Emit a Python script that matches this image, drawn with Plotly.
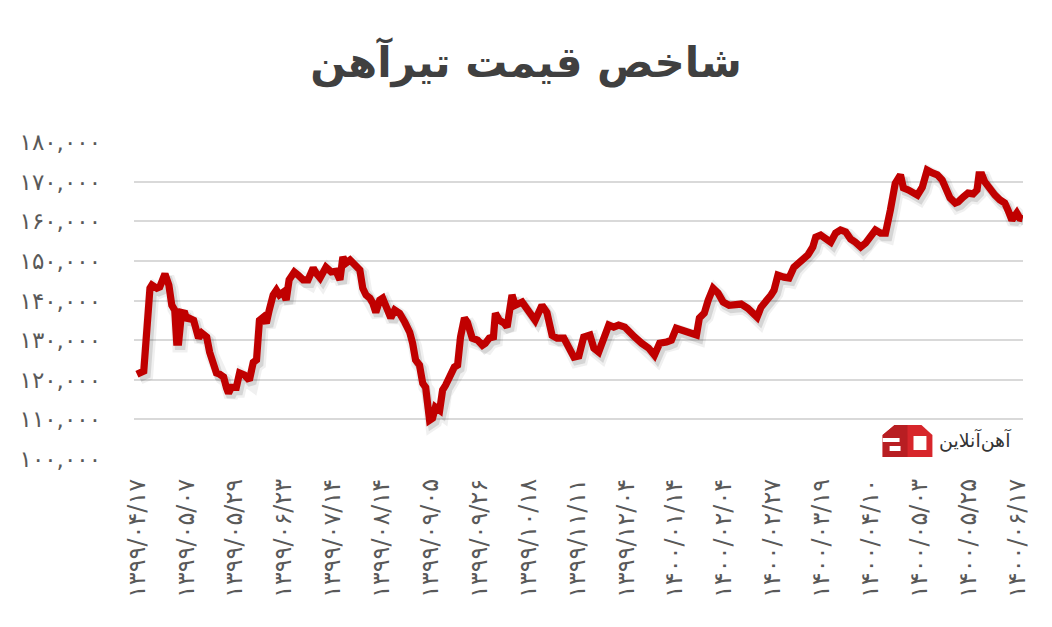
import plotly.graph_objects as go

# ---- data ----
day_index = [0.0, 2.1, 4.0, 4.6, 6.1, 7.0, 8.6, 9.8, 10.7, 11.6, 12.2, 12.8, 13.7, 14.7, 15.3, 15.9,
             17.4, 18.3, 18.9, 19.9, 21.4, 22.3, 23.5, 24.4, 25.4, 26.6, 27.5, 28.1, 29.0, 30.5, 31.5,
             33.0, 34.5, 35.7, 36.7, 37.6, 38.8, 39.7, 40.6, 41.8, 42.8, 43.7, 44.9, 45.8, 46.7, 48.3,
             49.5, 51.0, 52.5, 54.1, 55.0, 56.2, 58.0, 59.6, 61.1, 62.3, 63.2, 64.1, 65.4, 66.9, 68.4,
             69.3, 70.3, 71.5, 72.4, 73.3, 74.5, 75.4, 76.4, 77.9, 79.1, 80.6, 82.2, 83.7, 84.6, 85.5,
             86.7, 87.7, 88.6, 89.2, 89.8, 90.7, 91.6, 92.9, 93.8, 94.7, 96.2, 97.4, 98.4, 99.3, 100.5,
             101.4, 102.9, 104.5, 106.0, 106.9, 108.1, 109.4, 110.0, 111.2, 112.7, 113.6, 115.1, 116.1,
             118.2, 119.7, 121.3, 122.2, 124.3, 125.8, 127.4, 128.9, 131.0, 132.6, 134.1, 135.6, 137.1,
             139.0, 140.2, 141.7, 143.2, 144.8, 146.3, 147.8, 149.7, 150.9, 152.7, 154.9, 157.0, 158.8,
             160.4, 162.5, 164.0, 165.5, 168.0, 170.1, 171.7, 172.6, 174.1, 175.3, 176.8, 178.3, 179.9,
             181.7, 183.9, 185.4, 187.5, 189.1, 190.3, 191.5, 193.0, 194.6, 195.5, 196.7, 198.5, 200.1,
             201.6, 203.1, 204.6, 205.9, 207.4, 208.3, 209.8, 211.4, 212.9, 214.4, 215.9, 217.5, 219.0,
             220.5, 222.1, 223.6, 225.1, 226.6, 228.2, 229.7, 231.2, 232.7, 234.3, 235.2, 236.7, 238.2,
             239.5, 241.0, 242.5, 244.1, 245.6, 247.1, 248.0, 249.5, 251.1, 252.0, 253.5, 255.0, 256.6,
             257.8, 258.4, 259.3, 260.2, 261.8, 263.3, 264.8, 266.3, 267.3, 268.5, 270.0, 270.9, 271.8]

price_index = [121400, 122200, 143100, 143900, 143100, 143400, 146700, 143900, 138800, 137600, 129500,
               129500, 137000, 136800, 135000, 135600, 135000, 132500, 130500, 131800, 130800, 127000,
               123700, 121700, 121400, 120700, 117900, 116600, 118100, 118100, 121700, 121200, 119900,
               124400, 125000, 135000, 135800, 134300, 137600, 141400, 142600, 141400, 142100, 140100,
               145200, 147200, 146400, 145200, 145200, 148200, 146900, 145700, 148400, 147200, 147400,
               145200, 151000, 149400, 150200, 148900, 147700, 143100, 141400, 140600, 139300, 137000,
               140100, 140600, 138800, 135600, 137600, 136800, 134500, 132000, 129200, 125000, 123700,
               119100, 118100, 113600, 109800, 110300, 113100, 112300, 117400, 118600, 120700, 123200,
               123700, 130800, 135600, 134500, 130500, 130000, 128700, 129200, 130500, 130800, 136800,
               135000, 134300, 133300, 141400, 138800, 139600, 138000, 136300, 135000, 138800, 137000,
               131200, 130500, 130500, 128200, 125700, 126000, 130800, 131300, 128000, 127000, 130800,
               133800, 133300, 133800, 133300, 132000, 130800, 129200, 128000, 126200, 129200, 129500,
               130000, 133000, 132500, 132000, 131300, 135600, 136800, 140100, 143100, 141900, 139600,
               138800, 139100, 139100, 138000, 137000, 135800, 138300, 139600, 141400, 142600, 146400,
               145900, 145700, 148400, 149700, 151000, 151500, 153500, 156000, 156500, 155800, 154700,
               157000, 157800, 157300, 155500, 154700, 153500, 154500, 156500, 157800, 157000, 157000,
               162800, 169600, 171700, 168400, 167900, 167400, 166600, 168600, 172900, 172200, 171700,
               170400, 168600, 165900, 164600, 164900, 166100, 167100, 166900, 167900, 171700, 171700,
               169900, 167900, 166600, 165400, 164600, 162800, 160300, 162100, 160800, 160600]

tick_positions = [0, 15, 30, 45, 60, 75, 90, 105, 120, 135, 150, 165, 180, 195, 210, 225, 240, 255, 270]
date_labels = ["۱۳۹۹/۰۴/۱۷", "۱۳۹۹/۰۵/۰۷", "۱۳۹۹/۰۵/۲۹", "۱۳۹۹/۰۶/۲۳", "۱۳۹۹/۰۷/۱۴",
               "۱۳۹۹/۰۸/۱۴", "۱۳۹۹/۰۹/۰۵", "۱۳۹۹/۰۹/۲۶", "۱۳۹۹/۱۰/۱۸", "۱۳۹۹/۱۱/۱۱",
               "۱۳۹۹/۱۲/۰۴", "۱۴۰۰/۰۱/۱۴", "۱۴۰۰/۰۲/۰۴", "۱۴۰۰/۰۲/۲۷", "۱۴۰۰/۰۳/۱۹",
               "۱۴۰۰/۰۴/۱۰", "۱۴۰۰/۰۵/۰۳", "۱۴۰۰/۰۵/۲۵", "۱۴۰۰/۰۶/۱۷"]
y_ticks = [100000, 110000, 120000, 130000, 140000, 150000, 160000, 170000, 180000]

title_text = "شاخص قیمت تیرآهن"
logo_text = "آهن‌آنلاین"

assert len(day_index) == len(price_index)

FA = str.maketrans("0123456789", "۰۱۲۳۴۵۶۷۸۹")
y_labels = [f"{v:,}".translate(FA) for v in y_ticks]

# ---- layout geometry (page has an 8px body margin, so the figure is shifted by it) ----
OFF = 8
W, H = 1052 - OFF, 627 - OFF
L, R, T, B = 130 - OFF, 29, 142 - OFF, 168
PW, PH = W - L - R, H - T - B
X_RANGE = [-0.9, 271.9]
Y_RANGE = [100000, 180000]
px_per_x = PW / (X_RANGE[1] - X_RANGE[0])
px_per_y = PH / (Y_RANGE[1] - Y_RANGE[0])

# shadow offset (pixels) -> shifted axis ranges
sdx, sdy = 2.5, 3.5
X2 = [X_RANGE[0] - sdx / px_per_x, X_RANGE[1] - sdx / px_per_x]
Y2 = [Y_RANGE[0] + sdy / px_per_y, Y_RANGE[1] + sdy / px_per_y]

FONT = "DejaVu Sans"
fig = go.Figure()

# base subplot: carries the axes / gridlines
fig.add_trace(go.Scatter(x=day_index[:1], y=price_index[:1], mode="lines", xaxis="x", yaxis="y",
                         line=dict(color="rgba(0,0,0,0)", width=0), hoverinfo="skip", showlegend=False))
# soft shadow (same data, axes shifted by a few pixels)
fig.add_trace(go.Scatter(x=day_index, y=price_index, mode="lines", xaxis="x2", yaxis="y2",
                         line=dict(color="rgba(0,0,0,0.06)", width=14),
                         hoverinfo="skip", showlegend=False))
fig.add_trace(go.Scatter(x=day_index, y=price_index, mode="lines", xaxis="x2", yaxis="y2",
                         line=dict(color="rgba(0,0,0,0.11)", width=9),
                         hoverinfo="skip", showlegend=False))
# main line
fig.add_trace(go.Scatter(x=day_index, y=price_index, mode="lines", xaxis="x3", yaxis="y3",
                         line=dict(color="#C00000", width=7.2),
                         showlegend=False))


def P(px, py):
    # page pixel -> paper coordinates
    return (px - OFF - L) / PW, (H - B - (py - OFF)) / PH


def path(pts):
    s = ""
    for i, (a, b) in enumerate(pts):
        xx, yy = P(a, b)
        s += ("M" if i == 0 else "L") + f"{xx:.5f},{yy:.5f} "
    return s + "Z"


def rect(x0, y0, x1, y1, color):
    a0, b0 = P(x0, y0)
    a1, b1 = P(x1, y1)
    return dict(type="rect", xref="paper", yref="paper", x0=a0, y0=b1, x1=a1, y1=b0,
                fillcolor=color, line=dict(width=0), layer="above")


shapes = [
    dict(type="path", xref="paper", yref="paper",
         path=path([(882, 435), (894, 425), (921, 425), (932, 435), (932, 457), (882, 457)]),
         fillcolor="#D7262B", line=dict(width=0), layer="above"),
    dict(type="path", xref="paper", yref="paper",
         path=path([(882, 435), (894, 425), (907, 425), (907, 457), (882, 457)]),
         fillcolor="#B81E22", line=dict(width=0), layer="above"),
    rect(882, 438, 899, 442, "white"),
    rect(889, 446, 900, 451, "white"),
    rect(913, 436, 926, 450, "white"),
]

grid = "#D9D9D9"
fig.update_layout(
    width=W, height=H,
    margin=dict(l=L, r=R, t=T, b=B, pad=0),
    paper_bgcolor="white", plot_bgcolor="white",
    title=dict(text=f"<b>{title_text}</b>", x=0.5 - OFF / 2 / W, xref="container", xanchor="center",
               y=1 - (62 - OFF) / H, yref="container", yanchor="middle",
               font=dict(family=FONT, size=42, color="#404040")),
    xaxis=dict(range=X_RANGE, tickmode="array", tickvals=tick_positions, ticktext=date_labels,
               tickangle=-90, showgrid=False, zeroline=False, showline=False, ticks="",
               ticklabelstandoff=14,
               tickfont=dict(family=FONT, size=24, color="#595959")),
    yaxis=dict(range=Y_RANGE, tickmode="array", tickvals=y_ticks, ticktext=y_labels,
               showgrid=True, gridcolor=grid, gridwidth=1.6, zeroline=False, showline=False,
               ticks="", ticklabelstandoff=32,
               tickfont=dict(family=FONT, size=23, color="#595959")),
    xaxis2=dict(range=X2, overlaying="x", visible=False),
    yaxis2=dict(range=Y2, overlaying="y", visible=False),
    xaxis3=dict(range=X_RANGE, overlaying="x", visible=False),
    yaxis3=dict(range=Y_RANGE, overlaying="y", visible=False),
    shapes=shapes,
    annotations=[dict(text=logo_text, xref="paper", yref="paper", x=P(1013, 0)[0], y=P(0, 440)[1],
                      xanchor="right", yanchor="middle", showarrow=False,
                      font=dict(family=FONT, size=19, color="#333333"))],
    showlegend=False,
)

fig.write_html("out.html")
